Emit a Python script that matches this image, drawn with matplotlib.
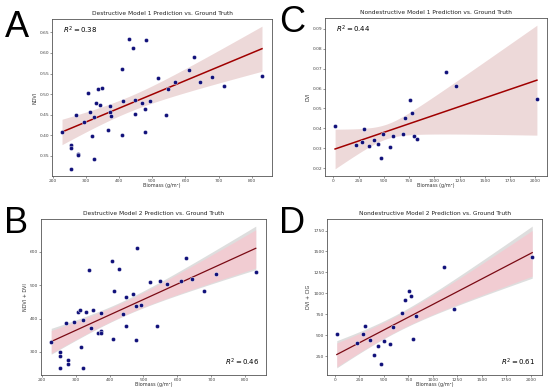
import numpy as np
import matplotlib.pyplot as plt

# destructive set (panels A and B)
biomass_d = [228, 255, 255, 255, 271, 276, 277, 295, 307, 313, 317, 323, 323, 331, 338,
             344, 350, 366, 374, 374, 375, 408, 409, 412, 429, 441, 448, 449, 470, 478,
             478, 482, 493, 518, 541, 549, 568, 612, 625, 644, 679, 715, 831]
ndvi = [0.407, 0.377, 0.369, 0.318, 0.448, 0.355, 0.351, 0.433, 0.502, 0.456, 0.397,
        0.444, 0.343, 0.478, 0.512, 0.473, 0.514, 0.413, 0.470, 0.457, 0.447, 0.562,
        0.400, 0.483, 0.634, 0.611, 0.451, 0.486, 0.478, 0.463, 0.407, 0.631, 0.484,
        0.538, 0.448, 0.512, 0.529, 0.558, 0.591, 0.529, 0.541, 0.520, 0.545]
ndvi_dvi = [331, 301, 289, 252, 388, 277, 264, 390, 421, 427, 316, 395, 252, 419, 547,
            372, 427, 358, 362, 356, 416, 572, 338, 484, 549, 414, 378, 465, 474, 439,
            337, 611, 442, 511, 378, 512, 505, 514, 583, 520, 482, 534, 539]

# nondestructive set (panels C and D)
biomass_n = [18, 226, 282, 306, 358, 400, 443, 470, 496, 566, 591, 688, 714, 758, 781,
             800, 831, 1114, 1211, 2015]
dvi = [0.0410, 0.0316, 0.0332, 0.0398, 0.0312, 0.0344, 0.0323, 0.0253, 0.0374, 0.0306,
       0.0360, 0.0372, 0.0451, 0.0543, 0.0477, 0.0363, 0.0348, 0.0683, 0.0615, 0.0549]
dvi_cig = [514, 412, 514, 606, 449, 264, 366, 153, 431, 394, 602, 769, 921, 1023, 972,
           458, 727, 1310, 810, 1440]

panels = [
    # letter, title, x, y, ylabel, r2, rect(px: left, top, right, bottom), two bands
    ('A', 'Destructive Model 1 Prediction vs. Ground Truth', biomass_d, ndvi, 'NDVI',
     '0.38', (52, 19, 272, 176), False),
    ('C', 'Nondestructive Model 1 Prediction vs. Ground Truth', biomass_n, dvi, 'DVI',
     '0.44', (325, 18, 547, 176), False),
    ('B', 'Destructive Model 2 Prediction vs. Ground Truth', biomass_d, ndvi_dvi, 'NDVI + DVI',
     '0.46', (41, 219, 266, 375), True),
    ('D', 'Nondestructive Model 2 Prediction vs. Ground Truth', biomass_n, dvi_cig, 'DVI + CIG',
     '0.61', (327, 219, 542, 375), True),
]
letter_pos = {'A': (5, 37), 'B': (4, 233), 'C': (279, 32), 'D': (279, 233)}

W, H = 550, 392
fig = plt.figure(figsize=(W / 100, H / 100), dpi=100)


def ci_band(x, y, xs, t):
    # linear fit with a robust (HC3) standard error for the 95% band
    x = np.asarray(x, float)
    y = np.asarray(y, float)
    X = np.column_stack([np.ones_like(x), x])
    bread = np.linalg.inv(X.T @ X)
    beta = bread @ X.T @ y
    e = y - X @ beta
    h = np.einsum('ij,jk,ik->i', X, bread, X)
    w = (e / (1 - h)) ** 2
    meat = (X * w[:, None]).T @ X
    V = bread @ meat @ bread
    X0 = np.column_stack([np.ones_like(xs), xs])
    yh = X0 @ beta
    half = t * np.sqrt(np.einsum('ij,jk,ik->i', X0, V, X0))
    return yh, half


for letter, title, x, y, ylab, r2, (l, t, r, bt), two in panels:
    ax = fig.add_axes([l / W, 1 - bt / H, (r - l) / W, (bt - t) / H])
    xs = np.linspace(min(x), max(x), 100)
    yh, half = ci_band(x, y, xs, 1.96)
    if two:
        ax.fill_between(xs, yh - half * 1.04, yh + half * 1.08, color='#dedede', lw=0)
        ax.fill_between(xs, yh - half * 0.96, yh + half * 0.9, color='pink', alpha=0.6, lw=0)
        ax.plot(xs, yh, color='#7a0a14', lw=0.9)
    else:
        ax.fill_between(xs, yh - half, yh + half, color='darkred', alpha=0.15, lw=0)
        ax.plot(xs, yh, color='#a00000', lw=1.1)
    ax.scatter(x, y, s=9, color='#10107a', edgecolor='white', linewidth=0.3, zorder=3)
    ax.set_title(title, fontsize=4.2, pad=3, color='#222222')
    ax.set_xlabel('Biomass (g/m²)', fontsize=3.5, labelpad=0.5, color='#333333')
    ax.set_ylabel(ylab, fontsize=3.5, labelpad=1.5, color='#333333')
    ax.tick_params(labelsize=3.2, length=1.2, width=0.4, pad=0.8, colors='#444444')
    for sp in ax.spines.values():
        sp.set_linewidth(0.6)
        sp.set_color('#555555')
    if two:
        ax.text(0.97, 0.06, '$R^2 = $' + r2, transform=ax.transAxes, ha='right', fontsize=5)
    else:
        ax.text(0.05, 0.93, '$R^2 = $' + r2, transform=ax.transAxes, ha='left', va='center',
                fontsize=5)
    lx, ly = letter_pos[letter]
    fig.text(lx / W, 1 - ly / H, letter, fontsize=26, family='Liberation Sans')

fig.savefig('out.png', dpi=100)
